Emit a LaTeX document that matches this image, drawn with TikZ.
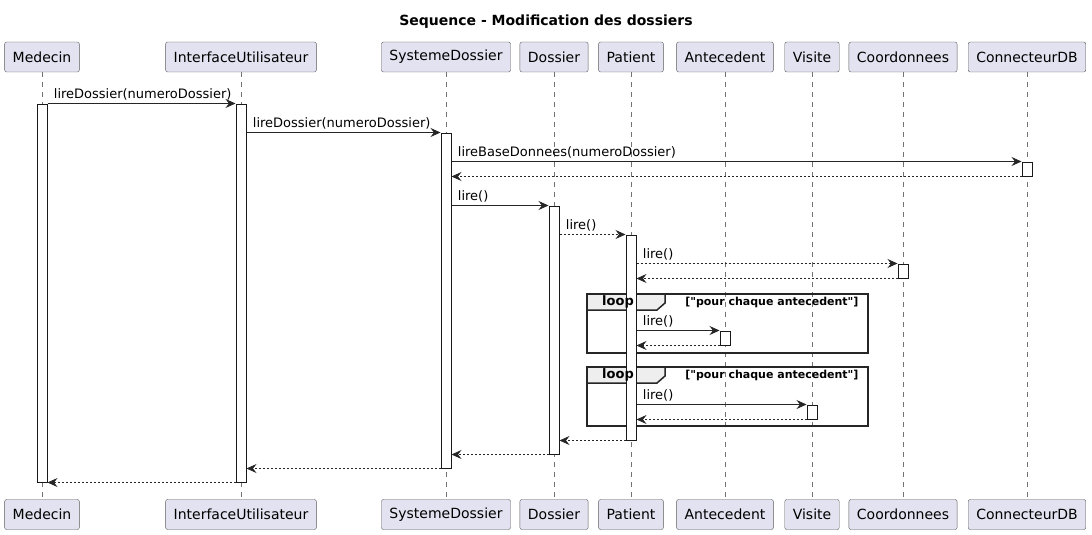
\documentclass[tikz,border=0pt]{standalone}
\usepackage{fontspec}
\setmainfont{DejaVu Sans}
\newfontfamily\guardfont{DejaVu Sans}
\usetikzlibrary{arrows.meta}
\definecolor{partfill}{HTML}{E2E2F0}
\definecolor{tabfill}{HTML}{EEEEEE}
\begin{document}
\begin{tikzpicture}[x=1pt,y=-1pt,
	part/.style={draw=black!65, fill=partfill, rounded corners=2pt, minimum height=30pt, inner xsep=8pt, font=\fontsize{14}{16}\selectfont},
	life/.style={draw=black!55, dash pattern=on 5pt off 5pt, line width=0.5pt},
	act/.style={draw=black!90, fill=white, line width=1pt, minimum width=10pt, inner sep=0pt},
	msg/.style={-{Stealth[length=10pt, width=9pt, inset=3.5pt]}, line width=0.8pt, draw=black!85},
	ret/.style={msg, dash pattern=on 2pt off 2pt},
	lbl/.style={anchor=base west, inner sep=0pt, pos=0, xshift=6pt, yshift=5pt, font=\fontsize{13}{15}\selectfont},
	loopframe/.style={draw=black!85, line width=1.5pt, inner sep=0pt, outer sep=0pt, minimum width=281pt, minimum height=59pt, anchor=north west},
	looptab/.style={draw=black!85, line width=1.5pt, fill=tabfill},
	guard/.style={anchor=east, font=\guardfont\bfseries\fontsize{11}{13}\selectfont},
	]
	\useasboundingbox (0,0) rectangle (1092,535);
	\node[font=\bfseries\fontsize{14}{16}\selectfont] (title) at (546,22) {Sequence - Modification des dossiers};

	\node[part] (pMedT) at (42,57) {Medecin};
	\node[part] (pIUT) at (241,57) {InterfaceUtilisateur};
	\node[part] (pSDT) at (446,57) {SystemeDossier};
	\node[part] (pDosT) at (554,57) {Dossier};
	\node[part] (pPatT) at (631,57) {Patient};
	\node[part] (pAntT) at (725,57) {Antecedent};
	\node[part] (pVisT) at (812,57) {Visite};
	\node[part] (pCooT) at (903,57) {Coordonnees};
	\node[part] (pCDBT) at (1027,57) {ConnecteurDB};

	\node[part] (pMedB) at (42,514.5) {Medecin};
	\node[part] (pIUB) at (241,514.5) {InterfaceUtilisateur};
	\node[part] (pSDB) at (446,514.5) {SystemeDossier};
	\node[part] (pDosB) at (554,514.5) {Dossier};
	\node[part] (pPatB) at (631,514.5) {Patient};
	\node[part] (pAntB) at (725,514.5) {Antecedent};
	\node[part] (pVisB) at (812,514.5) {Visite};
	\node[part] (pCooB) at (903,514.5) {Coordonnees};
	\node[part] (pCDBB) at (1027,514.5) {ConnecteurDB};

	\foreach \p in {Med, IU, SD, Dos, Pat, Ant, Vis, Coo, CDB}
		\draw[life] (p\p T) -- (p\p B);

	\node[loopframe] (L1) at (587,294) {};
	\draw[looptab] (L1.north west) -- ++(78,0) -- ++(0,9) -- ++(-8,7) -- ++(-70,0) -- cycle;
	\node[guard] (L1g) at ([shift={(-6,8)}]L1.north east) {["pour chaque antecedent"]};

	\node[loopframe] (L2) at (587,367) {};
	\draw[looptab] (L2.north west) -- ++(78,0) -- ++(0,9) -- ++(-8,7) -- ++(-70,0) -- cycle;
	\node[guard] (L2g) at ([shift={(-6,8)}]L2.north east) {["pour chaque antecedent"]};

	\node[act, minimum height=378pt] (aMed) at (42,293) {};
	\node[act, minimum height=378pt] (aIU) at (241,293) {};
	\node[act, minimum height=335pt] (aSD) at (446,300.5) {};
	\node[act, minimum height=14pt] (aCDB) at (1027,169) {};
	\node[act, minimum height=248pt] (aDos) at (554,330) {};
	\node[act, minimum height=205pt] (aPat) at (631,337.5) {};
	\node[act, minimum height=14pt] (aCoo) at (903,271) {};
	\node[act, minimum height=14pt] (aAnt) at (725,338) {};
	\node[act, minimum height=14pt] (aVis) at (812,412) {};

	\node[font=\bfseries\fontsize{13}{15}\selectfont] (L1t) at ([shift={(31,8)}]L1.north west) {loop};
	\node[font=\bfseries\fontsize{13}{15}\selectfont] (L2t) at ([shift={(31,8)}]L2.north west) {loop};

	\draw[msg] (aMed.north east) -- (aIU.north west) node[lbl] {lireDossier(numeroDossier)};
	\draw[msg] (aSD.north west -| aIU.east) -- (aSD.north west) node[lbl] {lireDossier(numeroDossier)};
	\draw[msg] (aCDB.north west -| aSD.east) -- (aCDB.north west) node[lbl] {lireBaseDonnees(numeroDossier)};
	\draw[ret] (aCDB.south west) -- (aCDB.south west -| aSD.east);
	\draw[msg] (aDos.north west -| aSD.east) -- (aDos.north west) node[lbl] {lire()};
	\draw[ret] (aPat.north west -| aDos.east) -- (aPat.north west) node[lbl] {lire()};
	\draw[ret] (aCoo.north west -| aPat.east) -- (aCoo.north west) node[lbl] {lire()};
	\draw[ret] (aCoo.south west) -- (aCoo.south west -| aPat.east);
	\draw[msg] (aAnt.north west -| aPat.east) -- (aAnt.north west) node[lbl] {lire()};
	\draw[ret] (aAnt.south west) -- (aAnt.south west -| aPat.east);
	\draw[msg] (aVis.north west -| aPat.east) -- (aVis.north west) node[lbl] {lire()};
	\draw[ret] (aVis.south west) -- (aVis.south west -| aPat.east);
	\draw[ret] (aPat.south west) -- (aPat.south west -| aDos.east);
	\draw[ret] (aDos.south west) -- (aDos.south west -| aSD.east);
	\draw[ret] (aSD.south west) -- (aSD.south west -| aIU.east);
	\draw[ret] (aIU.south west) -- (aIU.south west -| aMed.east);
\end{tikzpicture}
\end{document}
